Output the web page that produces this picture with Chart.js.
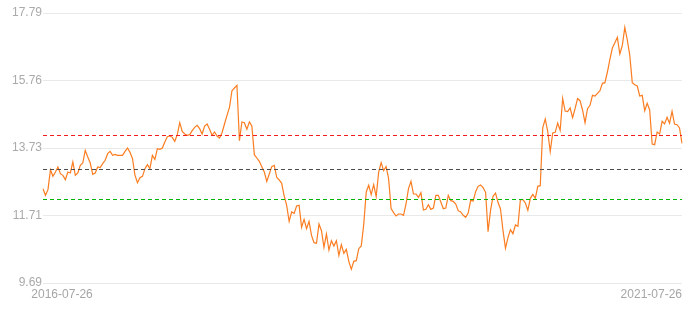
<!DOCTYPE html>
<html>
<head>
<meta charset="utf-8">
<script src="https://cdn.jsdelivr.net/npm/chart.js@4/dist/chart.umd.min.js"></script>
<style>
  html, body { margin: 0; padding: 0; background: #fff; }
  #wrap { width: 696px; height: 317px; position: relative; }
</style>
</head>
<body>
<div id="wrap"><canvas id="c"></canvas></div>
<script>
// series, in six consecutive stretches
const part1 = [12.52, 12.32, 12.49, 13.09, 12.89, 13.02, 13.17, 12.97, 12.92, 12.79, 13.02, 12.99, 13.32, 12.92, 12.99, 13.22, 13.29, 13.67, 13.47, 13.29, 12.95, 12.99, 13.17, 13.15, 13.27, 13.37, 13.57, 13.64, 13.52, 13.55, 13.52, 13.52, 13.52, 13.64, 13.74, 13.61, 13.42, 12.92, 12.70, 12.85, 12.89];
const part2 = [13.12, 13.24, 13.12, 13.52, 13.40, 13.72, 13.70, 13.74, 13.92, 14.08, 14.10, 14.06, 13.94, 14.14, 14.50, 14.24, 14.16, 14.12, 14.14, 14.26, 14.36, 14.42, 14.32, 14.16, 14.40, 14.46, 14.30, 14.12, 14.22, 14.10, 14.04, 14.20, 14.46, 14.72, 14.96, 15.46, 15.54, 15.62, 13.96, 14.52, 14.50, 14.30, 14.52, 14.40];
const part3 = [13.54, 13.44, 13.34, 13.18, 13.02, 12.74, 12.96, 13.18, 13.22, 12.86, 12.78, 12.68, 12.30, 12.02, 11.54, 11.82, 11.78, 12.00, 12.02, 11.36, 11.60, 11.32, 11.54, 11.12, 10.90, 10.88, 11.46, 11.26, 10.76, 11.16, 10.68, 10.96, 10.80, 10.96, 10.52, 10.84, 10.58, 10.70, 10.34, 10.10, 10.34, 10.36, 10.72, 10.80];
const part4 = [11.45, 12.42, 12.62, 12.34, 12.64, 12.28, 13.02, 13.30, 13.06, 13.18, 12.82, 11.92, 11.80, 11.70, 11.76, 11.76, 11.72, 12.06, 12.52, 12.74, 12.36, 12.36, 12.26, 12.40, 11.88, 11.90, 12.04, 11.90, 11.94, 12.32, 12.32, 12.12, 11.92, 11.94, 12.32, 12.16, 12.14, 12.06, 11.86, 11.82, 11.72, 11.66];
const part5 = [11.79, 12.17, 12.15, 12.43, 12.59, 12.63, 12.55, 12.41, 11.23, 11.87, 12.29, 12.39, 12.11, 11.91, 11.27, 10.73, 11.05, 11.29, 11.17, 11.43, 11.39, 12.19, 12.19, 12.09, 11.87, 12.23, 12.35, 12.23, 12.59, 12.61, 14.35, 14.61, 14.23, 13.63, 14.19, 14.21, 14.49, 14.27, 15.23, 14.85, 14.83];
const part6 = [14.94, 14.65, 14.92, 15.22, 15.16, 14.88, 14.50, 14.92, 15.02, 15.32, 15.30, 15.38, 15.46, 15.68, 15.70, 16.02, 16.40, 16.74, 16.90, 17.06, 16.56, 16.82, 17.36, 16.98, 16.52, 15.70, 15.64, 15.60, 15.30, 15.32, 14.86, 15.08, 14.88, 13.86, 13.84, 14.22, 14.16, 14.54, 14.46, 14.66, 14.48, 14.84, 14.46, 14.44, 14.34, 13.88];

const xTickLabels = ['2016-07-26', '2021-07-26'];
const yTickLabels = ['9.69', '11.71', '13.73', '15.76', '17.79'];
const yMin = 9.69;
const yMax = 17.79;

// horizontal reference levels (dashed)
const refLevels = [14.12, 13.12, 12.22];
const refColors = ['#f01e1e', '#4d4d4d', '#00b400'];

const values = [...part1, ...part2, ...part3, ...part4, ...part5, ...part6];
const categories = values.map((_, i) => i);
const lastIdx = values.length - 1;
const firstLabelIdx = 20; // first date label sits right-aligned here

const refLinesPlugin = {
    id: 'refLines',
    afterDatasetsDraw(chart) {
        const { ctx, chartArea, scales } = chart;
        ctx.save();
        refLevels.forEach((v, i) => {
            const y = Math.round(scales.y.getPixelForValue(v)) + 0.5;
            ctx.strokeStyle = refColors[i];
            ctx.lineWidth = 1;
            ctx.setLineDash([4, 3]);
            ctx.beginPath();
            ctx.moveTo(chartArea.left, y);
            ctx.lineTo(chartArea.right, y);
            ctx.stroke();
        });
        ctx.restore();
    },
};

new Chart(document.getElementById('c'), {
    type: 'line',
    data: {
        labels: categories,
        datasets: [{
            data: values,
            borderColor: '#fb7d21',
            borderWidth: 1.2,
            pointRadius: 0,
            tension: 0,
            fill: false,
        }],
    },
    options: {
        responsive: true,
        maintainAspectRatio: false,
        animation: false,
        layout: { padding: { top: 13, right: 14, left: 0, bottom: 0 } },
        plugins: {
            legend: { display: false },
            tooltip: { enabled: false },
        },
        scales: {
            x: {
                offset: false,
                grid: { display: false, drawTicks: false },
                border: { display: false },
                afterFit(s) { s.height = 34; },
                ticks: {
                    autoSkip: false,
                    maxRotation: 0,
                    minRotation: 0,
                    align: 'end',
                    padding: 4,
                    color: '#a6a6a6',
                    font: { family: '"Liberation Sans", Arial, sans-serif', size: 12 },
                    callback: (v, i) => i === firstLabelIdx ? xTickLabels[0] : (i === lastIdx ? xTickLabels[1] : ''),
                },
            },
            y: {
                min: yMin,
                max: yMax,
                grid: { color: '#e9e9e9', drawTicks: false },
                border: { display: false },
                afterFit(s) { s.width = 43; },
                afterBuildTicks(s) {
                    s.ticks = yTickLabels.map((_, i) => ({ value: yMin + i * (yMax - yMin) / (yTickLabels.length - 1) }));
                },
                ticks: {
                    padding: 1,
                    color: '#aaaaaa',
                    font: { family: '"Liberation Sans", Arial, sans-serif', size: 12 },
                    callback: (v, i) => yTickLabels[i],
                },
            },
        },
    },
    plugins: [refLinesPlugin],
});
</script>
</body>
</html>
